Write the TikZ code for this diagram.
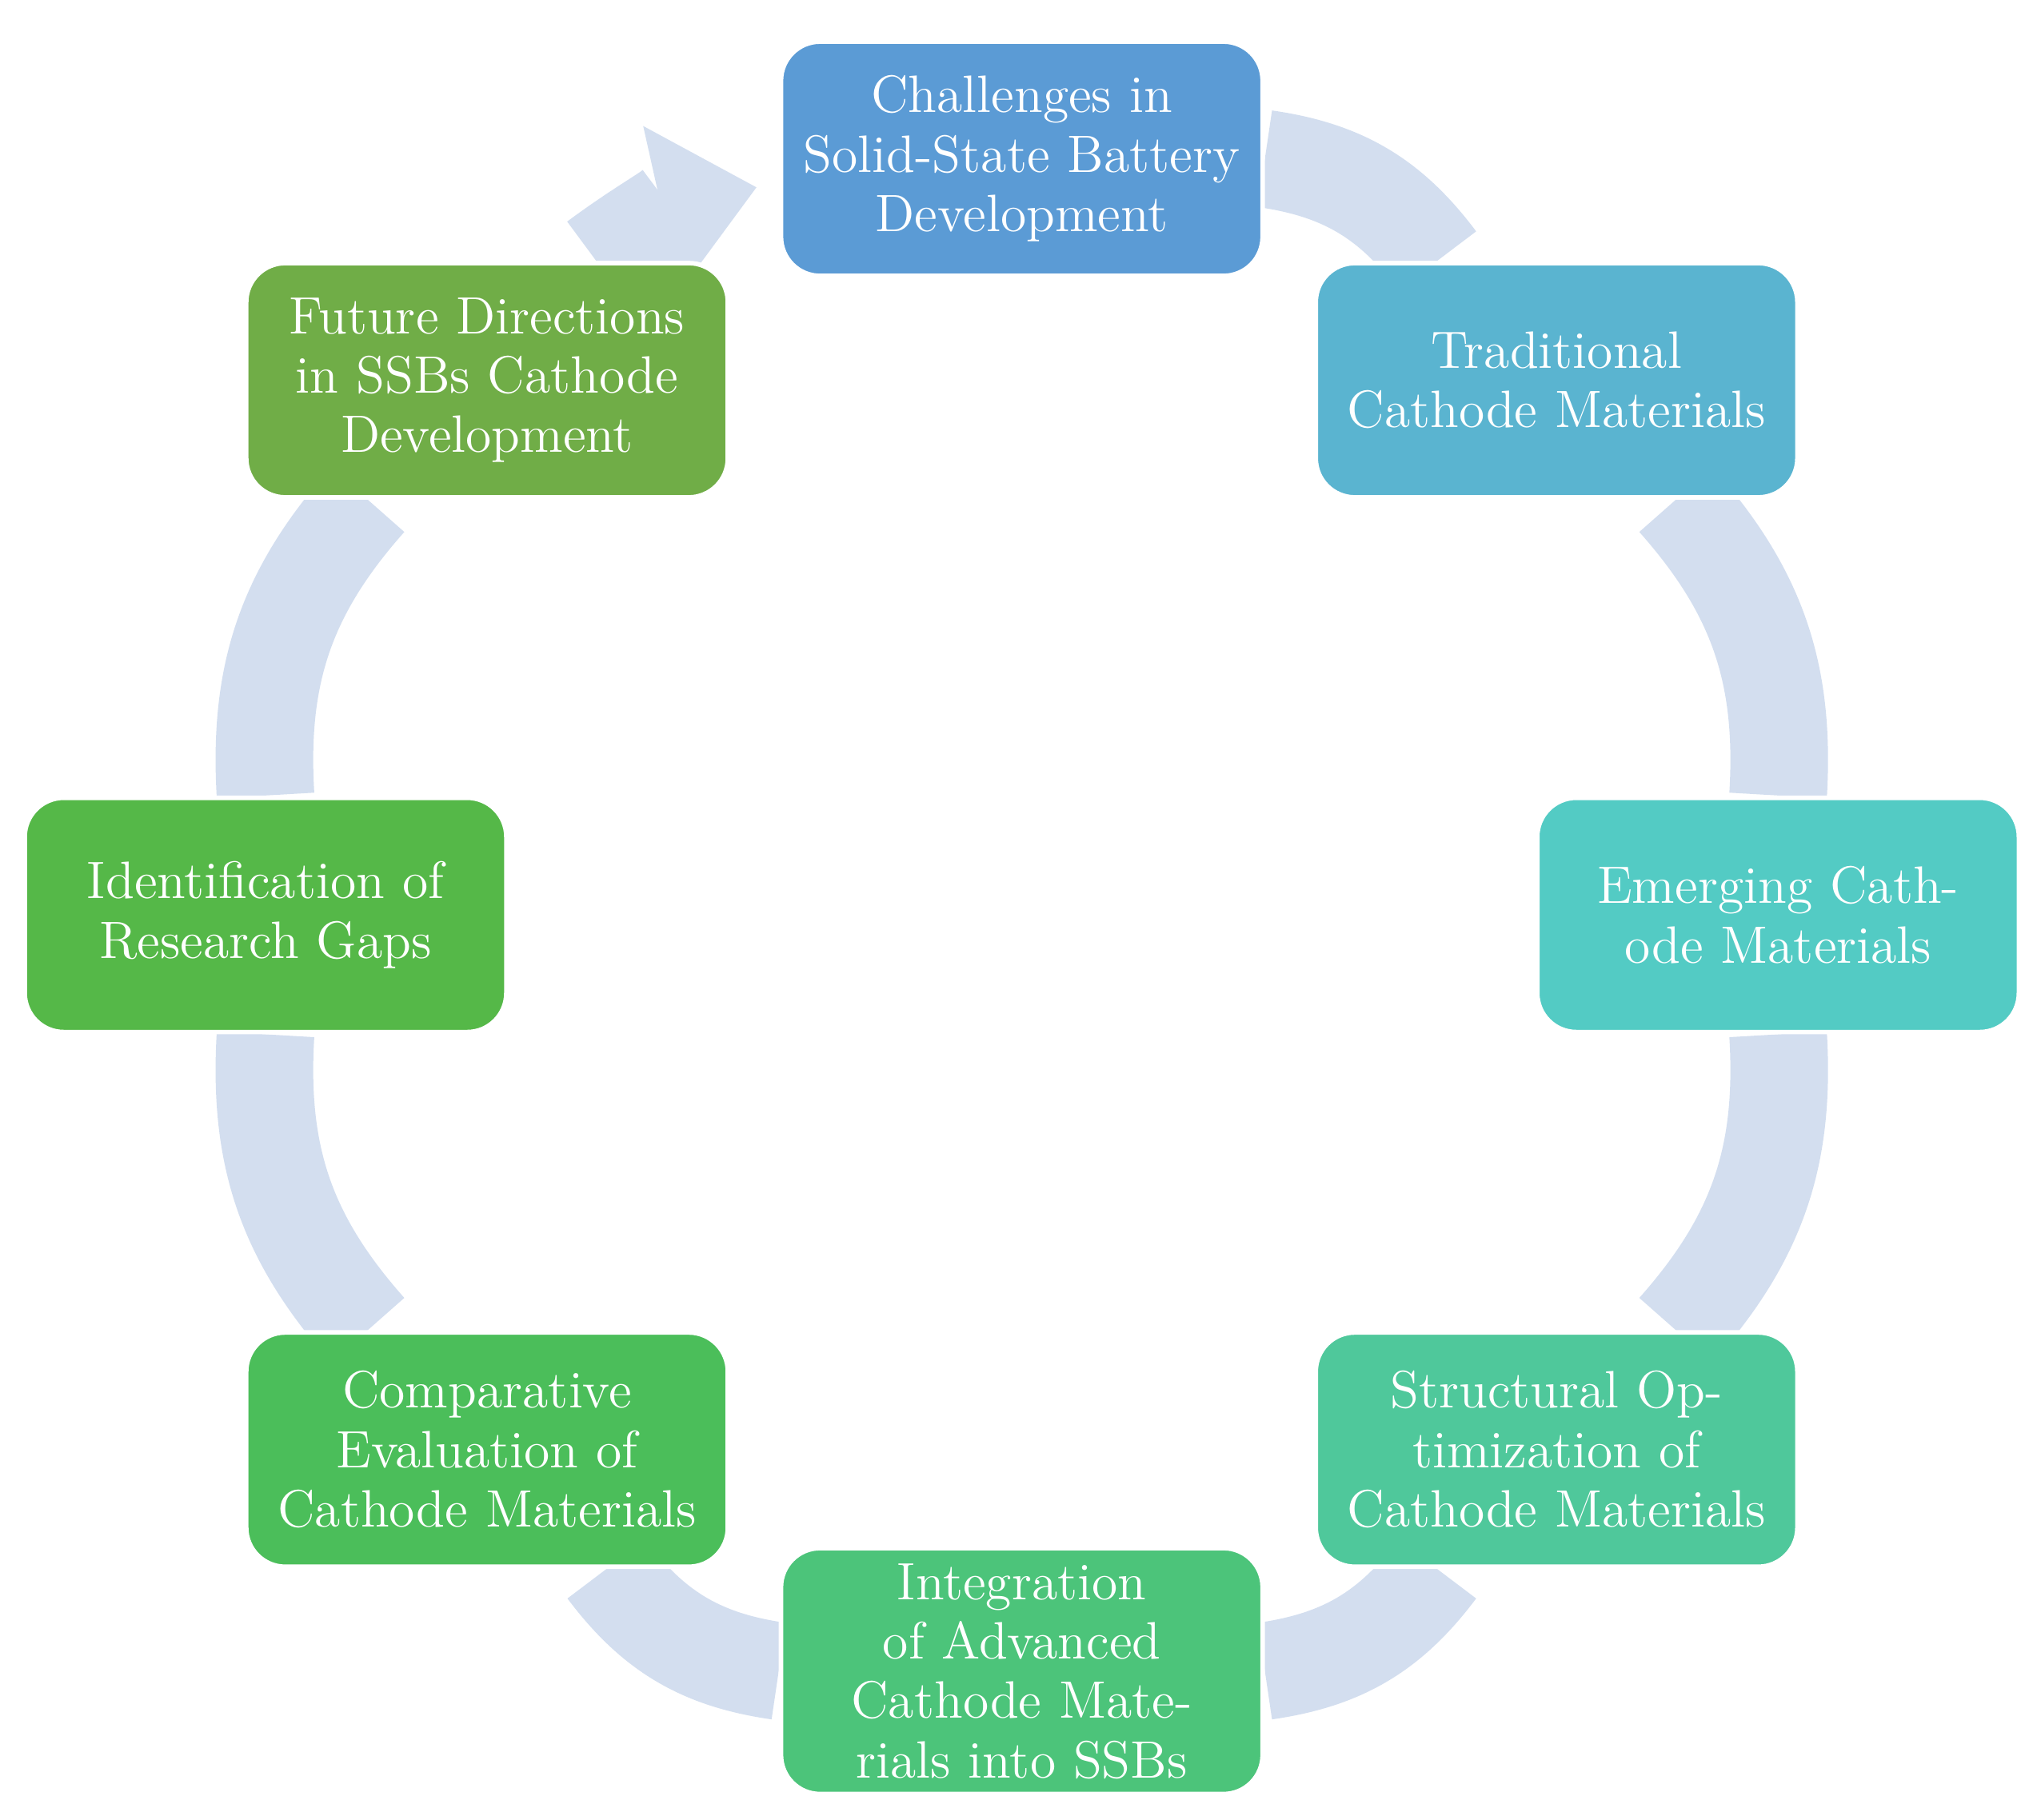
\documentclass[tikz,border=0pt]{standalone}
\usetikzlibrary{arrows.meta,backgrounds}
\definecolor{bandblue}{HTML}{D3DEEF}
\definecolor{cOne}{HTML}{5B9BD5}
\definecolor{cTwo}{HTML}{5AB4D0}
\definecolor{cThree}{HTML}{53CBC4}
\definecolor{cFour}{HTML}{4FC89B}
\definecolor{cFive}{HTML}{4CC47A}
\definecolor{cSix}{HTML}{4BBE5A}
\definecolor{cSeven}{HTML}{55B848}
\definecolor{cEight}{HTML}{70AD47}
\tikzset{
  stage/.style={draw=white, line width=1pt, rounded corners=0.3cm, minimum width=3.7cm, minimum height=1.8cm,
    text width=3.4cm, align=center, text=white, font=\fontsize{11.5}{13}\selectfont},
  band/.style={draw=bandblue, line width=0.75cm}
}
\begin{document}
\begin{tikzpicture}
% Fix the page size
\useasboundingbox (-7.85,-6.95) rectangle (7.83,7.03);

% The steps around the circle
\node[stage, fill=cOne] (challenges) at (90:5.81) {Challenges in Solid-State Battery Development};
\node[stage, fill=cTwo] (traditional) at (45:5.81) {Traditional Cathode Materials};
\node[stage, fill=cThree] (emerging) at (0:5.81) {Emerging Cathode Materials};
\node[stage, fill=cFour] (structural) at (-45:5.81) {Structural Optimization of Cathode Materials};
\node[stage, fill=cFive] (integration) at (-90:5.81) {Integration of Advanced Cathode Materials into SSBs};
\node[stage, fill=cSix] (comparative) at (-135:5.81) {Comparative Evaluation of Cathode Materials};
\node[stage, fill=cSeven] (gaps) at (180:5.81) {Identification of Research Gaps};
\node[stage, fill=cEight] (future) at (135:5.81) {Future Directions in SSBs Cathode Development};
\coordinate (tip) at (110:5.95);

% The bands between them
\begin{scope}[on background layer]
\draw[band] (challenges) to[bend left=22.5] (traditional);
\draw[band] (traditional) to[bend left=22.5] (emerging);
\draw[band] (emerging) to[bend left=22.5] (structural);
\draw[band] (structural) to[bend left=22.5] (integration);
\draw[band] (integration) to[bend left=22.5] (comparative);
\draw[band] (comparative) to[bend left=22.5] (gaps);
\draw[band] (gaps) to[bend left=22.5] (future);
\draw[band, -{Triangle[width=1.25cm, length=0.75cm]}] (future) to[bend left=12] (tip);
\end{scope}
\end{tikzpicture}
\end{document}
